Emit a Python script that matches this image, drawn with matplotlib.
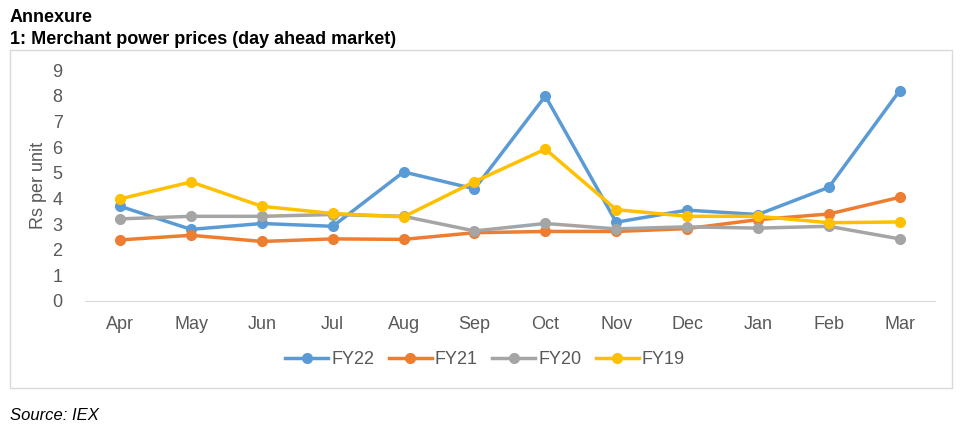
import matplotlib
matplotlib.use("Agg")
import matplotlib.pyplot as plt
from matplotlib.patches import Rectangle

plt.rcParams['font.family'] = ['Liberation Sans', 'DejaVu Sans']

months = ['Apr', 'May', 'Jun', 'Jul', 'Aug', 'Sep', 'Oct', 'Nov', 'Dec', 'Jan', 'Feb', 'Mar']
fy22 = [3.69, 2.79, 3.02, 2.91, 5.03, 4.37, 7.99, 3.07, 3.54, 3.37, 4.43, 8.20]
fy21 = [2.38, 2.56, 2.32, 2.42, 2.40, 2.66, 2.71, 2.71, 2.82, 3.17, 3.39, 4.04]
fy20 = [3.20, 3.30, 3.30, 3.37, 3.30, 2.73, 3.02, 2.81, 2.89, 2.84, 2.91, 2.42]
fy19 = [3.98, 4.64, 3.69, 3.41, 3.28, 4.65, 5.92, 3.56, 3.30, 3.30, 3.05, 3.08]

series = [('FY22', fy22, '#5B9BD5'), ('FY21', fy21, '#ED7D31'),
          ('FY20', fy20, '#A5A5A5'), ('FY19', fy19, '#FFC000')]

fig = plt.figure(figsize=(9.63, 4.33), dpi=100)
ax = fig.add_axes([0.088, 0.305, 0.883, 0.533])

x = range(len(months))
for name, vals, col in series:
    ax.plot(x, vals, color=col, lw=2.5, marker='o', ms=7, label=name)

ax.set_ylim(0, 9)
ax.set_yticks(range(10))
ax.set_xlim(-0.5, len(months) - 0.5)
ax.set_xticks(list(x))
ax.set_xticklabels(months)
ax.tick_params(length=0, labelsize=13, labelcolor='#595959')
ax.tick_params(axis='x', pad=11)
ax.tick_params(axis='y', pad=16)
for s in ['top', 'right', 'left']:
    ax.spines[s].set_visible(False)
ax.spines['bottom'].set_color('#D9D9D9')
ax.set_ylabel('Rs per unit', fontsize=13, color='#595959', labelpad=4)

# legend centred on the outer chart box, not the axes
ax.legend(loc='center', bbox_to_anchor=(485 / 963, 1 - 360 / 433),
          bbox_transform=fig.transFigure, ncol=4, frameon=False,
          fontsize=13, labelcolor='#595959', handlelength=2.4, handletextpad=0.15,
          columnspacing=0.8)

fig.patches.append(Rectangle((10 / 963, 1 - 388 / 433), 942 / 963, 338 / 433,
                             transform=fig.transFigure, fill=False,
                             edgecolor='#D9D9D9', lw=1))

fig.text(10 / 963, 1 - 18 / 433, 'Annexure', fontsize=13, fontweight='bold', va='center')
fig.text(10 / 963, 1 - 40 / 433, '1: Merchant power prices (day ahead market)',
         fontsize=13, fontweight='bold', va='center')
fig.text(10 / 963, 1 - 415 / 433, 'Source: IEX', fontsize=12, style='italic', va='center')

fig.savefig('out.png', dpi=100)
